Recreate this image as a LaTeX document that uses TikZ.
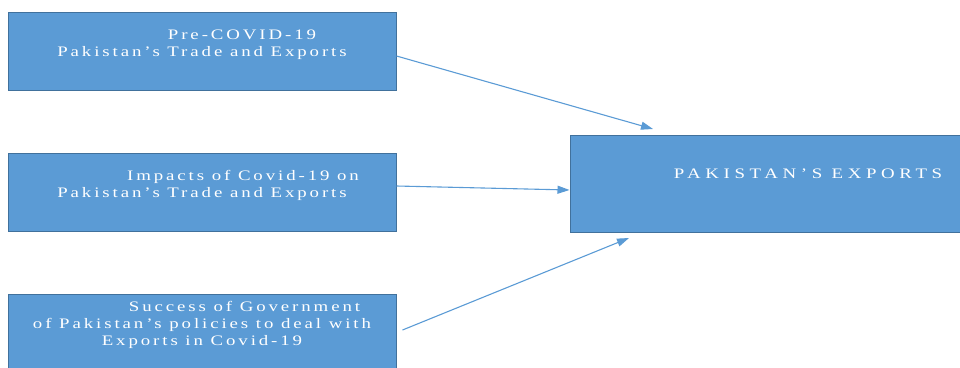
\documentclass[tikz,border=0pt]{standalone}
\usepackage{fontspec}
\setmainfont{Liberation Serif}[LetterSpace=20,FakeStretch=1.3]
\newfontfamily\widecaps{Liberation Serif}[LetterSpace=32,FakeStretch=1.3]
\usetikzlibrary{arrows.meta}
\definecolor{boxfill}{HTML}{5B9BD5}
\definecolor{boxline}{HTML}{41719C}
\definecolor{arrcol}{HTML}{5B9BD5}
\tikzset{
  box/.style={draw=boxline, line width=1pt, fill=boxfill, rectangle, inner sep=0pt},
  txt/.style={text=white, font=\fontsize{14.5}{17}\selectfont, align=center, inner sep=0pt},
  arr/.style={draw=arrcol, line width=1.1pt, -{Triangle[length=12pt,width=8pt]}}
}
\begin{document}
\begin{tikzpicture}[x=1pt,y=-1pt]
\useasboundingbox (0,0) rectangle (960,367);
\node[box, minimum width=388pt, minimum height=78pt] (b1) at (202,51) {};
\node[box, minimum width=388pt, minimum height=78pt] (b2) at (202,192) {};
\node[box, minimum width=388pt, minimum height=78pt] (b3) at (202,333) {};
\node[box, minimum width=474pt, minimum height=97pt] (big) at (807,183.5) {};
\node[txt] (t1) at (202,44.5) {\hspace*{80pt}Pre-COVID-19\\Pakistan’s Trade and Exports};
\node[txt] (t2) at (202,185) {\hspace*{82pt}Impacts of Covid-19 on\\Pakistan’s Trade and Exports};
\node[txt] (t3) at (202,325) {\hspace*{85pt}Success of Government\\of Pakistan’s policies to deal with\\Exports in Covid-19};
\node[txt] (t4) at (808,174) {\widecaps PAKISTAN’S EXPORTS};
\coordinate (e1) at (653,129);
\coordinate (e3) at (629,238);
\draw[arr] ([yshift=-5pt]b1.east) -- (e1);
\draw[arr] ([yshift=6pt]b2.east) -- ([yshift=-6.5pt]big.west);
\draw[arr] ([xshift=6pt,yshift=3pt]b3.east) -- (e3);
\end{tikzpicture}
\end{document}
